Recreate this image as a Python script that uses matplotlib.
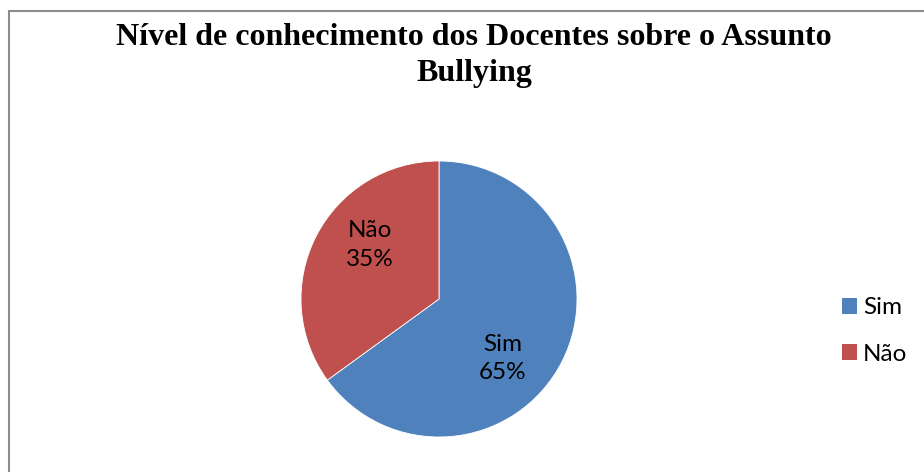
import matplotlib.pyplot as plt
from matplotlib.patches import Patch, Rectangle

# Teachers' answers on knowing about bullying
categories = ["Sim", "Não"]
shares = [65, 35]
colors = ["#4F81BD", "#C0504D"]

title = "Nível de conhecimento dos Docentes sobre o Assunto\nBullying"

W, H = 924, 472
fig = plt.figure(figsize=(W / 100, H / 100), dpi=100)

# chart frame (right and bottom edges run off the canvas)
fig.patches.append(Rectangle((8.5 / W, -0.1), 1.0, (H - 10.5) / H + 0.1,
                             transform=fig.transFigure, fill=False,
                             edgecolor="#8c8c8c", linewidth=1.5))

fig.text(474 / W, 1 - 23 / H, title, ha="center", va="top",
         family="Liberation Serif", fontweight="bold", fontsize=23,
         linespacing=1.34)

# pie area: center (439, 299) px, radius 138 px
cx, cy, r = 439, 299, 138
ax = fig.add_axes([(cx - r) / W, (H - cy - r) / H, 2 * r / W, 2 * r / H])
wedges, _ = ax.pie(shares, colors=colors, startangle=90, counterclock=False,
                   radius=1.0, wedgeprops=dict(linewidth=0.6, edgecolor="white"))
ax.set_xlim(-1, 1)
ax.set_ylim(-1, 1)
ax.axis("off")

label_pos = [(0.46, -0.43), (-0.50, 0.39)]
for (x, y), name, val in zip(label_pos, categories, shares):
    ax.text(x, y, f"{name}\n{val}%", ha="center", va="center",
            family="Lato", fontsize=17.5, linespacing=1.45, color="black")

handles = [Patch(facecolor=c, edgecolor="none") for c in colors]
fig.legend(handles, categories, loc="center left",
           bbox_to_anchor=(842 / W, 1 - 331 / H), frameon=False,
           borderpad=0, borderaxespad=0,
           prop=dict(family="Lato", size=17.5), handlelength=0.62,
           handleheight=0.62, handletextpad=0.25, labelspacing=1.05)

fig.savefig("out.png", dpi=100)
